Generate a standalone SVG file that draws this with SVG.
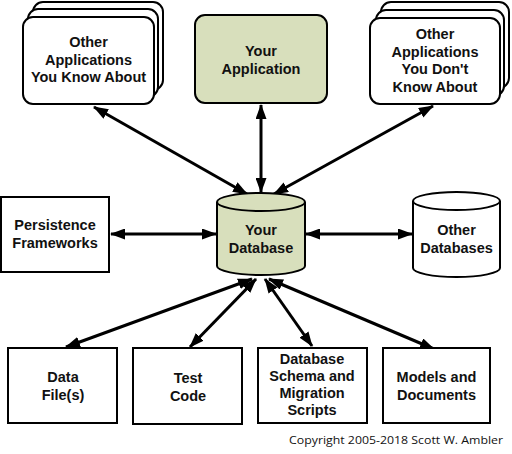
<svg xmlns="http://www.w3.org/2000/svg" width="512" height="454" viewBox="0 0 512 454">
<defs>
<style>
.box{fill:#fff;stroke:#000;stroke-width:2}
.green{fill:#d8dfbc;stroke:#000;stroke-width:2}
.lbl{font-family:"Liberation Sans",Arial,sans-serif;font-weight:bold;font-size:14.5px;fill:#111;text-anchor:middle}
.con{stroke:#000;stroke-width:3;fill:none;marker-start:url(#ah);marker-end:url(#ah)}
.copy{font-family:"Open Sans","Liberation Sans",sans-serif;font-size:11.5px;fill:#111}
</style>
<marker id="ah" viewBox="0 0 15 11" refX="14" refY="5.5" markerWidth="15" markerHeight="11" markerUnits="userSpaceOnUse" orient="auto-start-reverse">
<path d="M0,0 L15,5.5 L0,11 z" fill="#000"/>
</marker>
</defs>
<rect width="512" height="454" fill="#fff"/>
<g id="connectors">
<line class="con" x1="94" y1="107" x2="247" y2="194"/>
<line class="con" x1="261" y1="105" x2="261" y2="192"/>
<line class="con" x1="433" y1="106" x2="274" y2="194"/>
<line class="con" x1="111" y1="234" x2="216" y2="234"/>
<line class="con" x1="306" y1="234" x2="412" y2="234"/>
<line class="con" x1="66" y1="347" x2="252" y2="279"/>
<line class="con" x1="190" y1="347" x2="256" y2="279"/>
<line class="con" x1="312" y1="346" x2="265" y2="279"/>
<line class="con" x1="434" y1="349" x2="269" y2="279"/>
</g>
<g id="other-apps-known">
<rect class="box" x="33" y="2" width="130" height="88" rx="10"/>
<rect class="box" x="28" y="9" width="130" height="88" rx="10"/>
<rect class="box" x="23" y="17" width="131" height="87" rx="10"/>
<text class="lbl" x="88.5" y="47">Other</text>
<text class="lbl" x="88.5" y="64.5">Applications</text>
<text class="lbl" x="88.5" y="82">You Know About</text>
</g>
<g id="your-application">
<rect class="green" x="195" y="15" width="132" height="88" rx="10"/>
<text class="lbl" x="261" y="56">Your</text>
<text class="lbl" x="261" y="73.5">Application</text>
</g>
<g id="other-apps-unknown">
<rect class="box" x="381" y="2" width="128" height="86" rx="10"/>
<rect class="box" x="376" y="10" width="128" height="86" rx="10"/>
<rect class="box" x="370" y="18" width="130" height="86" rx="10"/>
<text class="lbl" x="435" y="39">Other</text>
<text class="lbl" x="435" y="56.5">Applications</text>
<text class="lbl" x="435" y="74">You Don't</text>
<text class="lbl" x="435" y="91.5">Know About</text>
</g>
<g id="persistence-frameworks">
<rect class="box" x="1" y="197" width="108" height="75"/>
<text class="lbl" x="55" y="230">Persistence</text>
<text class="lbl" x="55" y="247.5">Frameworks</text>
</g>
<g id="your-database">
<path class="green" d="M217,202 A44,9 0 0,1 305,202 V266 A44,9 0 0,1 217,266 Z"/>
<path d="M217,202 A44,9 0 0,0 305,202" fill="none" stroke="#000" stroke-width="2"/>
<text class="lbl" x="261" y="235">Your</text>
<text class="lbl" x="261" y="252.5">Database</text>
</g>
<g id="other-databases">
<path class="box" d="M413,201 A43.5,9 0 0,1 500,201 V268 A43.5,9 0 0,1 413,268 Z"/>
<path d="M413,201 A43.5,9 0 0,0 500,201" fill="none" stroke="#000" stroke-width="2"/>
<text class="lbl" x="456.5" y="235">Other</text>
<text class="lbl" x="456.5" y="252.5">Databases</text>
</g>
<g id="data-files">
<rect class="box" x="8" y="348" width="109" height="75"/>
<text class="lbl" x="63" y="382">Data</text>
<text class="lbl" x="63" y="399.5">File(s)</text>
</g>
<g id="test-code">
<rect class="box" x="133" y="348" width="109" height="76"/>
<text class="lbl" x="188" y="383">Test</text>
<text class="lbl" x="188" y="400.5">Code</text>
</g>
<g id="schema-scripts">
<rect class="box" x="258" y="348" width="109" height="75"/>
<text class="lbl" x="312" y="364">Database</text>
<text class="lbl" x="312" y="381">Schema and</text>
<text class="lbl" x="312" y="398">Migration</text>
<text class="lbl" x="312" y="415">Scripts</text>
</g>
<g id="models-documents">
<rect class="box" x="383" y="348" width="107" height="75"/>
<text class="lbl" x="436.5" y="382">Models and</text>
<text class="lbl" x="436.5" y="399.5">Documents</text>
</g>
<text class="copy" x="289" y="444" textLength="214" lengthAdjust="spacingAndGlyphs">Copyright 2005-2018 Scott W. Ambler</text>
</svg>
